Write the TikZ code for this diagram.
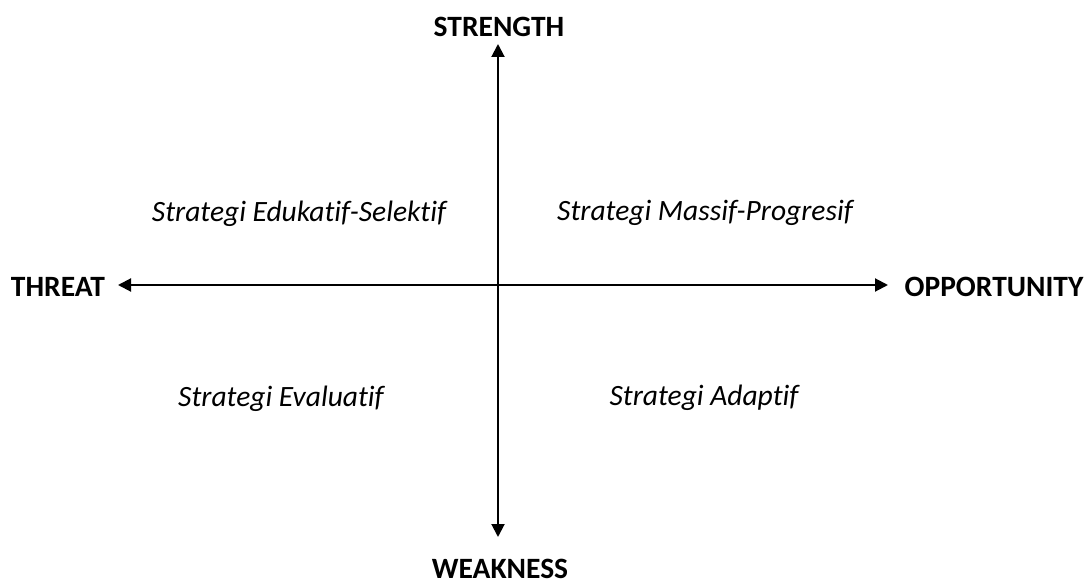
\documentclass[tikz,border=0pt]{standalone}
\usepackage{fontspec}
\setmainfont{Carlito}[Ligatures={NoCommon}]
\usetikzlibrary{arrows.meta}
\begin{document}
\begin{tikzpicture}[x=1bp,y=-1bp,
  axis/.style={line width=2bp,{Triangle[length=13bp,width=13bp]}-{Triangle[length=13bp,width=13bp]}},
  pole/.style={font=\fontsize{29.5bp}{34bp}\selectfont\bfseries,inner sep=0pt,anchor=base},
  quad/.style={font=\fontsize{29.5bp}{34bp}\selectfont\itshape,inner sep=0pt,anchor=base}]
\useasboundingbox (0,0) rectangle (1090,586);
% axis labels (placed by baseline)
\node[pole] (s) at (499,37) {STRENGTH};
\node[pole] (w) at (500,578) {WEAKNESS};
\node[pole] (t) at (58,297) {THREAT};
\node[pole] (o) at (994,297) {OPPORTUNITY};
% axis end points
\coordinate (top) at (498,44);
\coordinate (bot) at (498,537);
\coordinate (lft) at (118,285);
\coordinate (rgt) at (888,285);
\draw[axis] (top) -- (bot);
\draw[axis] (lft) -- (rgt);
% strategies
\node[quad] (q1) at (299,222) {Strategi Edukatif-Selektif};
\node[quad] (q2) at (705,221) {Strategi Massif-Progresif};
\node[quad] (q3) at (281,406) {Strategi Evaluatif};
\node[quad] (q4) at (704,405) {Strategi Adaptif};
\end{tikzpicture}
\end{document}
